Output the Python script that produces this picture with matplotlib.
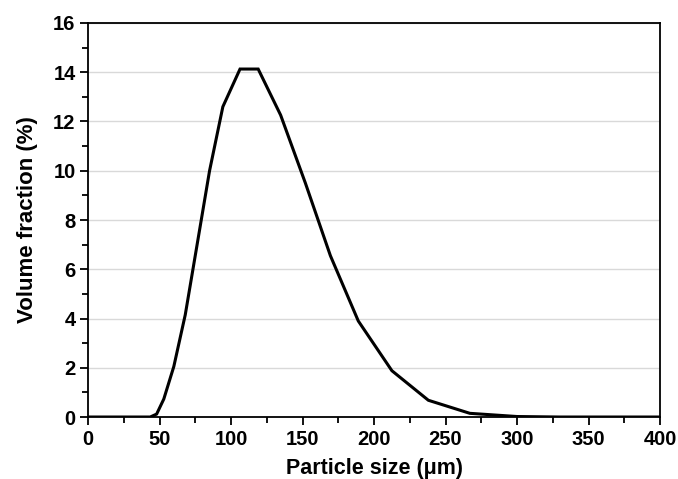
import matplotlib
matplotlib.use("Agg")
import matplotlib.pyplot as plt
from matplotlib.ticker import MultipleLocator

plt.rcParams['font.family'] = ['Liberation Sans', 'DejaVu Sans']

size_um = [0, 43.5, 48, 53, 60, 68, 76, 85, 94.3, 106.3, 119, 134.7, 152, 169.5, 189, 212.5, 238, 267, 300, 330, 400]
volume_pct = [0, 0.0, 0.12, 0.73, 2.05, 4.15, 6.9, 10.0, 12.6, 14.13, 14.13, 12.26, 9.5, 6.55, 3.9, 1.88, 0.68, 0.15, 0.02, 0.0, 0.0]

fig = plt.figure(figsize=(6.78, 4.79), dpi=100)
ax = fig.add_axes([0.1298, 0.1294, 0.8437, 0.8226])

ax.plot(size_um, volume_pct, color='black', lw=2.2, solid_joinstyle='miter', zorder=3)

ax.set_xlim(0, 400)
ax.set_ylim(0, 16)
ax.xaxis.set_major_locator(MultipleLocator(50))
ax.xaxis.set_minor_locator(MultipleLocator(25))
ax.yaxis.set_major_locator(MultipleLocator(2))
ax.yaxis.set_minor_locator(MultipleLocator(1))
ax.grid(axis='y', which='major', color='#d9d9d9', lw=1.0, zorder=0)
ax.set_axisbelow(True)

ax.tick_params(which='major', direction='out', length=6, width=1.3, labelsize=14.5, top=False, right=False, pad=3)
ax.tick_params(which='minor', direction='out', length=4, width=1.3, top=False, right=False)
for lbl in ax.get_xticklabels() + ax.get_yticklabels():
    lbl.set_fontweight('bold')
for s in ax.spines.values():
    s.set_linewidth(1.3)

ax.set_xlabel('Particle size (μm)', fontsize=15.5, fontweight='bold', labelpad=7)
ax.set_ylabel('Volume fraction (%)', fontsize=16, fontweight='bold', labelpad=11)

fig.savefig('out.png', dpi=100)
